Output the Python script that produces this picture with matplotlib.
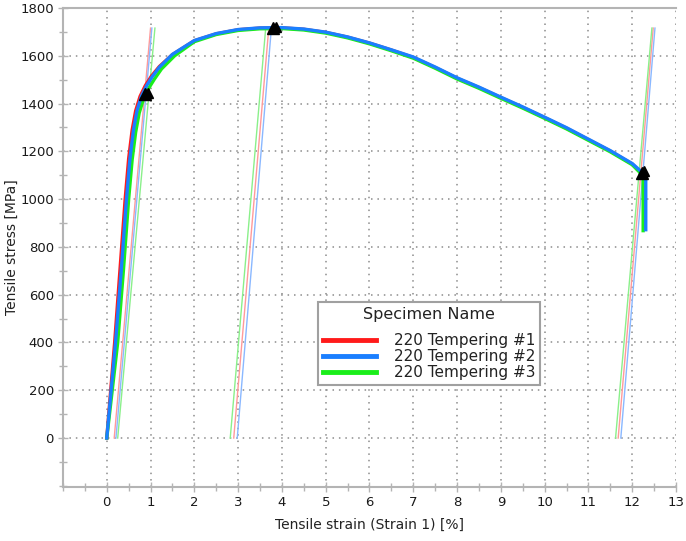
import matplotlib
matplotlib.use("Agg")
import matplotlib.pyplot as plt
from matplotlib.ticker import MultipleLocator

# ---------------- data ----------------
specimens = ["220 Tempering #1", "220 Tempering #2", "220 Tempering #3"]
colors = ["#ff1a1a", "#1a7fff", "#1aee1a"]
light_colors = ["#ff9a9a", "#8ab8ff", "#8af08a"]

strain_1 = [0, 0.18, 0.30, 0.42, 0.50, 0.58, 0.66, 0.76, 0.88, 1.02, 1.2, 1.5, 2.0, 2.5, 3.0, 3.5, 4.0,
            4.5, 5.0, 5.5, 6.0, 6.5, 7.0, 7.5, 8.0, 8.5, 9.0, 9.5, 10.0, 10.5, 11.0, 11.5, 12.0,
            12.22, 12.27, 12.27]
stress_1 = [0, 400, 700, 1000, 1170, 1290, 1370, 1430, 1475, 1515, 1555, 1605, 1663, 1692, 1709, 1716, 1717,
            1711, 1698, 1678, 1653, 1624, 1593, 1551, 1506, 1467, 1425, 1384, 1341, 1297, 1249, 1201, 1147,
            1108, 1100, 880]

strain_2 = [0, 0.20, 0.33, 0.45, 0.53, 0.61, 0.69, 0.79, 0.91, 1.04, 1.2, 1.5, 2.0, 2.5, 3.0, 3.5, 4.0,
            4.5, 5.0, 5.5, 6.0, 6.5, 7.0, 7.5, 8.0, 8.5, 9.0, 9.5, 10.0, 10.5, 11.0, 11.5, 12.0,
            12.24, 12.31, 12.31]
stress_2 = [0, 400, 700, 1000, 1170, 1290, 1370, 1430, 1475, 1513, 1552, 1606, 1664, 1693, 1710, 1717, 1718,
            1712, 1699, 1679, 1654, 1625, 1595, 1553, 1508, 1469, 1427, 1386, 1343, 1299, 1251, 1203, 1149,
            1110, 1102, 872]

strain_3 = [0, 0.25, 0.38, 0.50, 0.58, 0.66, 0.74, 0.84, 0.96, 1.09, 1.25, 1.55, 2.0, 2.5, 3.0, 3.5, 4.0,
            4.5, 5.0, 5.5, 6.0, 6.5, 7.0, 7.5, 8.0, 8.5, 9.0, 9.5, 10.0, 10.5, 11.0, 11.5, 12.0,
            12.20, 12.25, 12.25]
stress_3 = [0, 400, 700, 1000, 1165, 1280, 1360, 1420, 1465, 1503, 1545, 1600, 1659, 1689, 1706, 1713, 1714,
            1708, 1695, 1675, 1650, 1621, 1590, 1548, 1503, 1464, 1422, 1381, 1338, 1294, 1246, 1198, 1144,
            1107, 1099, 868]

strains = [strain_1, strain_2, strain_3]
stresses = [stress_1, stress_2, stress_3]

# modulus (unloading) lines: start strain at 0 MPa, end strain, end stress
mod_start_1 = [0.17, 2.90, 11.68]
mod_end_1 = [1.00, 3.70, 12.48]
mod_start_2 = [0.21, 2.98, 11.74]
mod_end_2 = [1.03, 3.76, 12.52]
mod_start_3 = [0.25, 2.82, 11.62]
mod_end_3 = [1.10, 3.63, 12.45]
mod_top = [1716, 1716, 1716]
mod_starts = [mod_start_1, mod_start_2, mod_start_3]
mod_ends = [mod_end_1, mod_end_2, mod_end_3]

# triangle markers (yield, max, break)
mark_strain = [0.88, 3.80, 12.22]
mark_stress = [1440, 1716, 1110]

x_ticks = list(range(0, 14))
y_ticks = list(range(0, 1801, 200))

# ---------------- figure ----------------
fig = plt.figure(figsize=(6.86, 5.41), dpi=100)
ax = fig.add_axes([0.0918, 0.0998, 0.8936, 0.8854])

grid_c = "#8c8c8c"
for x in x_ticks:
    ax.axvline(x, color=grid_c, lw=1.1, ls=(0, (1, 3.2)), zorder=0)
for y in y_ticks:
    ax.axhline(y, color=grid_c, lw=1.1, ls=(0, (1, 3.2)), zorder=0)

for i in range(3):
    for s0, s1, top in zip(mod_starts[i], mod_ends[i], mod_top):
        ax.plot([s0, s1], [0, top], color=light_colors[i], lw=1.0, zorder=2)

order = [0, 2, 1]
handles = {}
for i in order:
    ln, = ax.plot(strains[i], stresses[i], color=colors[i], lw=2.4, zorder=3,
                  solid_joinstyle="round", label=specimens[i])
    handles[i] = ln

ax.plot(mark_strain, mark_stress, ls="none", marker="^", ms=8, color="black", zorder=5)
ax.plot([m + 0.06 for m in mark_strain], [v + 6 for v in mark_stress], ls="none",
        marker="^", ms=7, color="black", zorder=5)

ax.set_xlim(-1, 13)
ax.set_ylim(-205, 1800)
ax.set_xticks(x_ticks)
ax.set_yticks(y_ticks)
ax.xaxis.set_minor_locator(MultipleLocator(0.5))
ax.yaxis.set_minor_locator(MultipleLocator(100))

spine_c = "#b4b4b4"
for side in ["left", "bottom", "top"]:
    ax.spines[side].set_color(spine_c)
    ax.spines[side].set_linewidth(1.5)
ax.spines["right"].set_visible(False)

ax.tick_params(which="both", direction="inout", color=spine_c, width=1.0,
               top=False, right=False)
ax.tick_params(which="major", length=7, labelsize=9.5, labelcolor="#1a1a1a", pad=3)
ax.tick_params(which="minor", length=6)

ax.set_xlabel("Tensile strain (Strain 1) [%]", fontsize=10, color="#222222", labelpad=6)
ax.set_ylabel("Tensile stress [MPa]", fontsize=10, color="#222222", labelpad=1)

leg = ax.legend([handles[0], handles[1], handles[2]], specimens, title="Specimen Name",
                loc="lower left", bbox_to_anchor=(0.416, 0.213), fontsize=11,
                title_fontsize=11.5, frameon=True, fancybox=False, handlelength=3.5,
                handletextpad=1.2, borderpad=0.3, borderaxespad=0, labelspacing=0.08,
                framealpha=1)
leg.get_frame().set_edgecolor("#a0a0a0")
leg.get_frame().set_linewidth(1.5)
for t in leg.get_texts():
    t.set_color("#222222")
leg.get_title().set_color("#222222")
leg._legend_box.sep = 8
for lh in leg.legend_handles:
    lh.set_linewidth(3.5)

fig.savefig("out.png", dpi=100)
